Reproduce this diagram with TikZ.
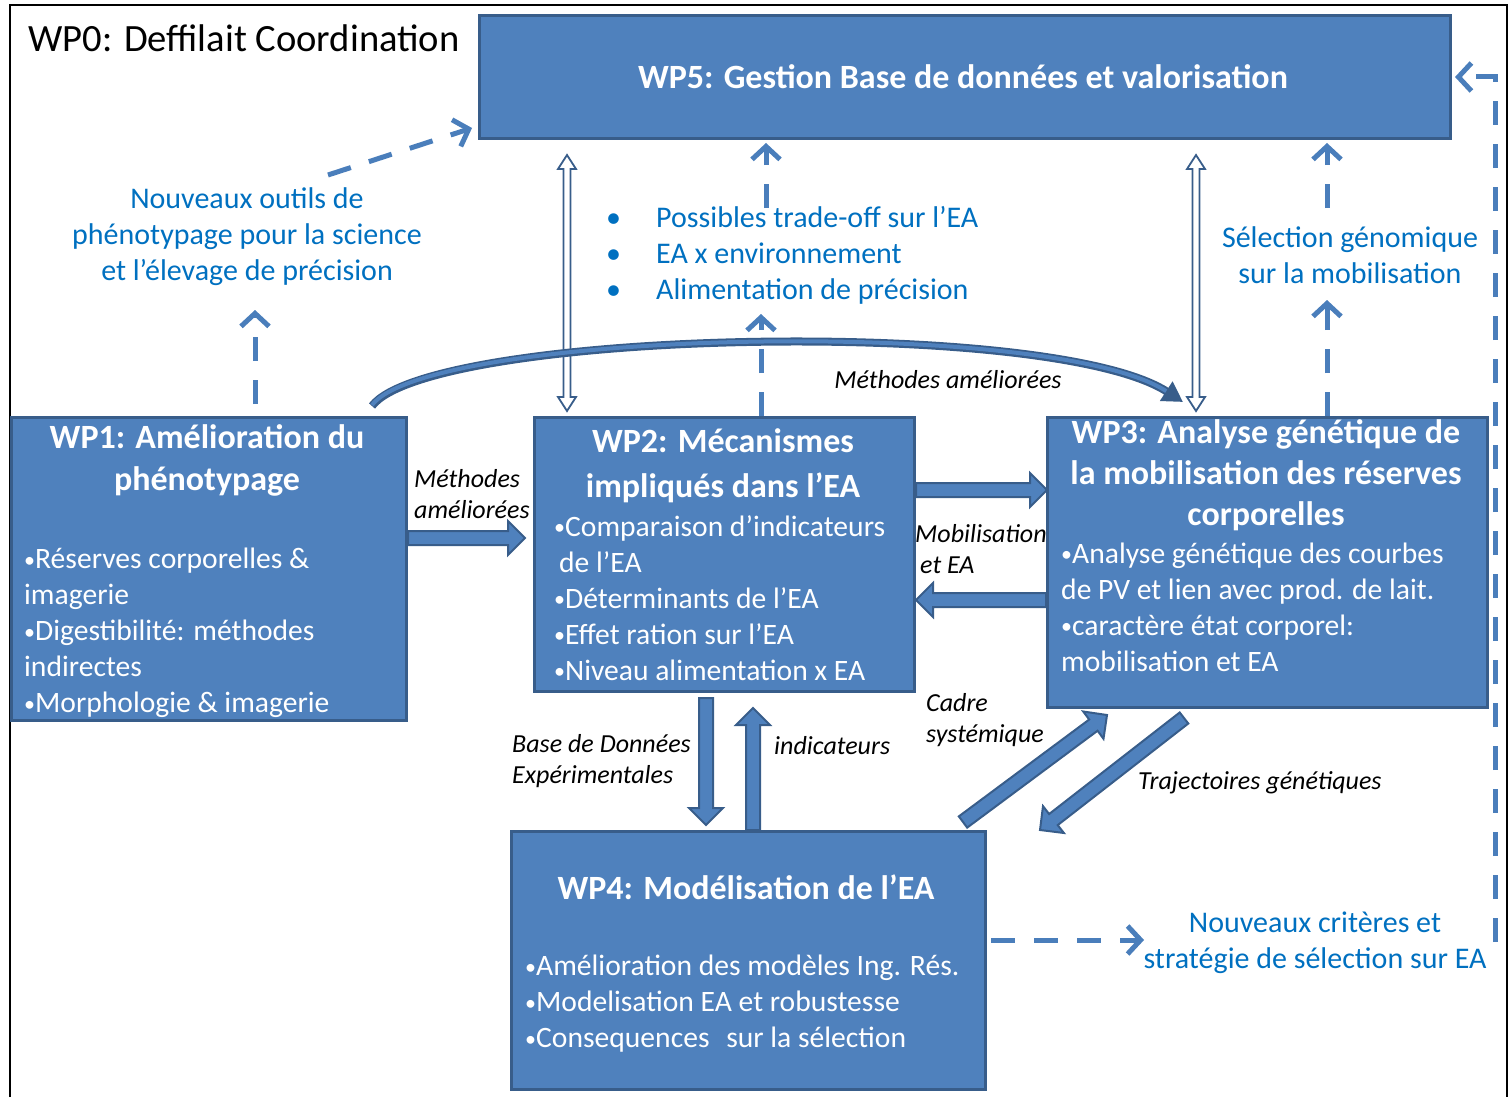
\documentclass[tikz,border=0pt]{standalone}
\usepackage{fontspec}
\setmainfont{Carlito}
\usetikzlibrary{arrows.meta,calc}
\definecolor{boxfill}{HTML}{4F81BD}
\definecolor{boxborder}{HTML}{385D8A}
\definecolor{dashblue}{HTML}{4A7EBB}
\definecolor{labelblue}{HTML}{0070C0}
\newcommand\bul{{\fontsize{22}{22}\selectfont\raisebox{1.5pt}{•}}}
\newcommand\blockarr[2]{%
  \coordinate (ba-c) at ($(#2)!17pt!(#1)$);
  \filldraw[blockarrow] ($(#1)!7pt!90:(#2)$) -- ($(ba-c)!7pt!90:(#2)$) -- ($(ba-c)!17pt!90:(#2)$) -- (#2)
    -- ($(ba-c)!17pt!-90:(#2)$) -- ($(ba-c)!7pt!-90:(#2)$) -- ($(#1)!7pt!-90:(#2)$) -- cycle;}
\newcommand\dblblock[2]{%
  \coordinate (da-a) at ($(#1)!14pt!(#2)$);
  \coordinate (da-b) at ($(#2)!14pt!(#1)$);
  \filldraw[dblarrow] (#1) -- ($(da-a)!9pt!90:(#2)$) -- ($(da-a)!3.5pt!90:(#2)$) -- ($(da-b)!3.5pt!-90:(#1)$)
    -- ($(da-b)!9pt!-90:(#1)$) -- (#2) -- ($(da-b)!9pt!90:(#1)$) -- ($(da-b)!3.5pt!90:(#1)$)
    -- ($(da-a)!3.5pt!-90:(#2)$) -- ($(da-a)!9pt!-90:(#2)$) -- cycle;}
\tikzset{
  wpbox/.style={draw=boxborder, line width=3pt, fill=boxfill, inner sep=0pt, anchor=north west},
  titletext/.style={text=white, inner sep=0pt, align=center, font=\fontsize{34}{42}\selectfont\bfseries},
  bodytext/.style={text=white, inner sep=0pt, align=left, anchor=west, font=\fontsize{29.6}{36}\selectfont},
  bluetext/.style={text=labelblue, inner sep=0pt, align=center, font=\fontsize{30}{36}\selectfont},
  itext/.style={text=black, inner sep=0pt, align=left, font=\fontsize{26}{31}\selectfont\itshape},
  dasharrow/.style={draw=dashblue, line width=5pt, dash pattern=on 24pt off 19pt, -{Straight Barb[length=13pt,width=28pt]}},
  dblarrow/.style={fill=white, draw=boxborder, line width=1.8pt, line join=miter},
  blockarrow/.style={fill=boxfill, draw=boxborder, line width=2pt, line join=miter},
}
\begin{document}
\begin{tikzpicture}[x=1pt,y=-1pt]
\useasboundingbox (0,0) rectangle (1509,1097);
% outer frame
\draw[line width=1.5pt] (10,1097) -- (10,5) -- (1507,5) -- (1507,1097);
\node[anchor=west, inner sep=0pt, font=\fontsize{38.6}{44}\selectfont] (wp0) at (28,38) {WP0: Deffilait Coordination};

% boxes
\node[wpbox, minimum width=971pt, minimum height=123pt] (wp5) at (478,14) {};
\node[wpbox, minimum width=395pt, minimum height=303pt] (wp1) at (10,416) {};
\node[wpbox, minimum width=380pt, minimum height=274pt] (wp2) at (533,416) {};
\node[wpbox, minimum width=440pt, minimum height=290pt] (wp3) at (1046,416) {};
\node[wpbox, minimum width=474pt, minimum height=258pt] (wp4) at (510,830) {};

% box texts
\node[titletext] (t5) at (963,77) {WP5: Gestion Base de données et valorisation};
\node[titletext] (t1) at (207,460) {WP1: Amélioration du\\phénotypage};
\node[bodytext] (b1) at (24,633) {\bul Réserves corporelles \&\\imagerie\\\bul Digestibilité: méthodes\\indirectes\\\bul Morphologie \& imagerie};
\node[titletext, font=\fontsize{34}{45}\selectfont\bfseries] (t2) at (723,466) {WP2: Mécanismes\\impliqués dans l’EA};
\node[bodytext] (b2) at (554,598) {\bul Comparaison d’indicateurs\\\hspace*{5pt}de l’EA\\\bul Déterminants de l’EA\\\bul Effet ration sur l’EA\\\bul Niveau alimentation x EA};
\node[titletext, font=\fontsize{34}{41}\selectfont\bfseries] (t3) at (1266,475) {WP3: Analyse génétique de\\la mobilisation des réserves\\corporelles};
\node[bodytext] (b3) at (1061,607) {\bul Analyse génétique des courbes\\de PV et lien avec prod. de lait.\\\bul caractère état corporel:\\mobilisation et EA};
\node[titletext] (t4) at (746,887) {WP4: Modélisation de l’EA};
\node[bodytext] (b4) at (525,1004) {\bul Amélioration des modèles Ing. Rés.\\\bul Modelisation EA et robustesse\\\bul Consequences\hspace{10pt} sur la sélection};

% blue labels
\node[bluetext] (l1) at (247,237) {Nouveaux outils de\\phénotypage pour la science\\et l’élevage de précision};
\node[bluetext, align=left, anchor=west] (l2) at (606,255) {\makebox[50pt][l]{•}Possibles trade-off sur l’EA\\\makebox[50pt][l]{•}EA x environnement\\\makebox[50pt][l]{•}Alimentation de précision};
\node[bluetext] (l3) at (1350,255) {Sélection génomique\\sur la mobilisation};
\node[bluetext] (l4) at (1315,943) {Nouveaux critères et\\stratégie de sélection sur EA};

% italic labels
\node[itext, anchor=west] (m1) at (414,494) {Méthodes\\améliorées};
\node[itext] (m2) at (948,380) {Méthodes améliorées};
\node[itext, anchor=west] (m3) at (915,549) {Mobilisation\\\hspace*{5pt}et EA};
\node[itext, anchor=west] (m4) at (512,761) {Base de Données\\Expérimentales};
\node[itext, anchor=west] (m5) at (774,746) {indicateurs};
\node[itext, anchor=west] (m6) at (926,720) {Cadre\\systémique};
\node[itext, anchor=west] (m7) at (1138,783) {Trajectoires génétiques};

% free ends of dashed arrows
\coordinate (l1top) at (328,175);
\coordinate (l1tip) at (255,310);
\coordinate (l2tip) at (761,314);
\coordinate (l2top) at (766,208);
\coordinate (l3tip) at (1327,300);
\coordinate (l3top) at (1327,208);
\coordinate (l4tip) at (1144,940);
\coordinate (l4end) at (1495,942);

% dashed arrows
\draw[dasharrow] (l1top) -- ($(wp5.south west)+(-6,-12)$);
\draw[dasharrow] ($(wp1.north -| 255,0)+(0,-12)$) -- (l1tip);
\draw[dasharrow] (wp2.north -| 761,0) -- (l2tip);
\draw[dasharrow] (l2top) -- ($(wp5.south -| 766,0)+(0,3)$);
\draw[dasharrow] (wp3.north -| 1327,0) -- (l3tip);
\draw[dasharrow] (l3top) -- ($(wp5.south -| 1327,0)+(0,3)$);
\draw[dasharrow] ($(wp4.east |- 0,940)+(4,0)$) -- (l4tip);
\draw[dasharrow] (l4end) |- ($(wp5.east |- 0,77)+(3,0)$);

% double hollow arrows
\dblblock{$(wp5.south -| 567,0)+(0,15)$}{$(wp2.north -| 567,0)+(0,-5)$}
\dblblock{$(wp5.south -| 1196,0)+(0,15)$}{$(wp3.north -| 1196,0)+(0,-5)$}

% curved arrow
\draw[line width=8pt, boxborder, -{Triangle[length=20pt,width=22pt]}] ($(wp1.north -| 372,0)+(0,-10)$) .. controls (430,330) and (1050,316) .. ($(wp3.north -| 1183,0)+(0,-14)$);
\draw[line width=4pt, boxfill, shorten >=20pt] ($(wp1.north -| 372,0)+(0,-11)$) .. controls (430,330) and (1050,316) .. ($(wp3.north -| 1183,0)+(0,-14)$);

% block arrows
\blockarr{wp1.east |- 0,538}{$(wp2.west |- 0,538)+(-8,0)$}
\blockarr{wp2.east |- 0,490}{$(wp3.west |- 0,490)+(1,0)$}
\blockarr{wp3.west |- 0,600}{wp2.east |- 0,600}
\blockarr{$(wp2.south -| 706,0)+(0,5)$}{$(wp4.north -| 706,0)+(0,-5)$}
\blockarr{wp4.north -| 753,0}{$(wp2.south -| 753,0)+(0,15)$}
\blockarr{$(wp4.north east)+(-24,-8)$}{$(wp3.south west)+(61,6)$}
\blockarr{$(wp3.south west)+(138,9)$}{$(wp4.north east)+(53,0)$}
\end{tikzpicture}
\end{document}
